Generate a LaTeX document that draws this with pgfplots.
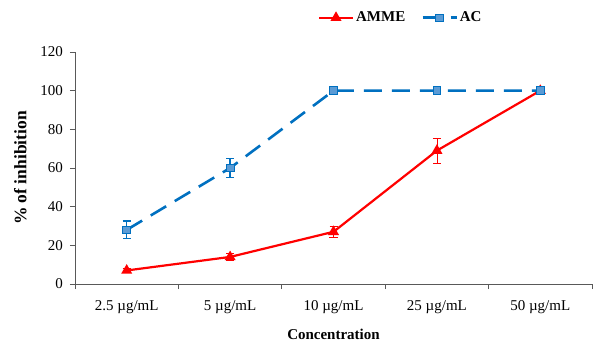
\documentclass[border=0pt]{standalone}
\usepackage{pgfplots}
\pgfplotsset{compat=1.18}
\usepackage{fontspec}
\setmainfont{Liberation Serif}
\definecolor{acline}{HTML}{0070C0}
\definecolor{acfill}{HTML}{5B9BD5}
\definecolor{axgray}{HTML}{595959}
\begin{document}
\fontsize{15bp}{18bp}\selectfont
\begin{tikzpicture}
\path[use as bounding box] (-75bp,-61bp) rectangle (518bp,284bp);
\begin{axis}[
  at={(0,0)}, anchor=south west,
  scale only axis, width=517bp, height=232bp,
  xmin=-0.5, xmax=4.5, ymin=0, ymax=120,
  ytick={0,20,...,120},
  xtick={0,1,2,3,4},
  xticklabels={2.5 µg/mL, 5 µg/mL, 10 µg/mL, 25 µg/mL, 50 µg/mL},
  minor xtick={-0.5,0.5,1.5,2.5,3.5,4.5},
  major x tick style={draw=none},
  tick align=outside,
  major tick length=5bp, minor tick length=5bp,
  tick style={axgray, line width=0.8bp},
  axis x line*=bottom, axis y line*=left,
  axis line style={axgray, line width=0.8bp, -},
  /pgf/number format/assume math mode=true,
  ticklabel style={font=\fontsize{15bp}{18bp}\selectfont},
  xticklabel style={yshift=-6bp},
  yticklabel style={xshift=-2bp},
  xlabel={\textbf{Concentration}},
  ylabel={\textbf{\% of inhibition}},
  label style={font=\fontsize{15bp}{18bp}\selectfont},
  xlabel style={yshift=-5bp},
  ylabel style={font=\fontsize{17.5bp}{20bp}\selectfont, anchor=center, at={(ticklabel cs:0.5,15bp)}},
  legend style={at={(0.63,1)}, anchor=south, yshift=24bp, draw=none, fill=none,
    legend columns=2, font=\fontsize{15bp}{18bp}\selectfont\bfseries,
    /tikz/every even column/.append style={column sep=14bp}},
  legend image code/.code={\draw[mark repeat=2,mark phase=2] plot coordinates {(0bp,0bp)(17bp,0bp)(34bp,0bp)};},
  legend cell align=left,
  clip=false,
]
\addplot[red, line width=2.2bp, mark=triangle*, mark size=4.2bp, mark options={solid, fill=red},
  error bars/.cd, y dir=both, y explicit,
  error bar style={line width=0.8bp, red},
  error mark options={rotate=90, mark size=4bp, line width=0.8bp, red}]
  coordinates {
  (0,7) +- (0,1)
  (1,14) +- (0,2)
  (2,27) +- (0,3)
  (3,69) +- (0,6.5)
  (4,100) +- (0,0.5)
  };
\addlegendentry{AMME}
\addplot[acline, line width=2.6bp, dash pattern=on 18bp off 10bp, mark=square*, mark size=3.8bp,
  mark options={solid, fill=acfill, draw=acline, line width=0.8bp},
  error bars/.cd, y dir=both, y explicit,
  error bar style={line width=1.4bp, acline, solid},
  error mark options={rotate=90, mark size=4bp, line width=1.4bp, acline, solid}]
  coordinates {
  (0,28) +- (0,4.5)
  (1,60) +- (0,5)
  (2,100) +- (0,0)
  (3,100) +- (0,0)
  (4,100) +- (0,0)
  };
\addlegendentry{AC}
\end{axis}
\end{tikzpicture}
\end{document}
